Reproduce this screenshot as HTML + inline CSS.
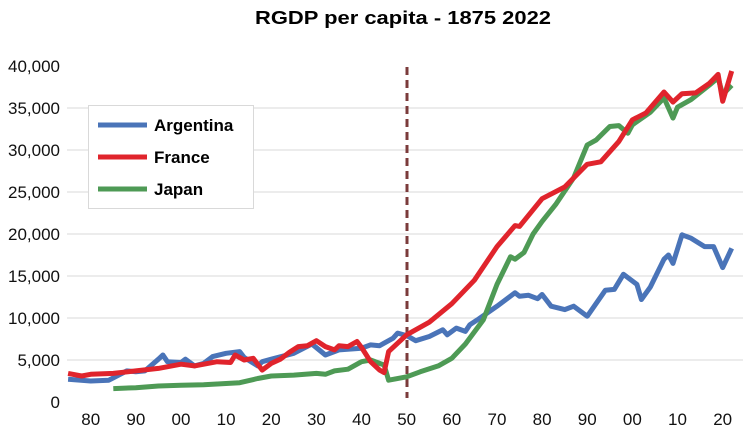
<!DOCTYPE html>
<html><head><meta charset="utf-8"><style>
body{margin:0;background:#fff;}
svg{display:block;font-family:"Liberation Sans",sans-serif;}
</style></head><body>
<svg id="chart" width="746" height="434">
<text x="403" y="24" text-anchor="middle" font-size="18" font-weight="bold" textLength="296" lengthAdjust="spacingAndGlyphs">RGDP per capita - 1875 2022</text>
<g id="grid"></g><g id="ylabels"></g><g id="xlabels"></g>
<line x1="407" y1="67" x2="407" y2="398" stroke="#7b3b3b" stroke-width="3" stroke-dasharray="8,5"/>
<g id="series"></g>
<g>
<rect x="88.5" y="105.5" width="165" height="103" fill="#fff" stroke="#d9d9d9"/>
<g><line x1="98" y1="125" x2="147" y2="125" stroke="#4a74b8" stroke-width="5"/><text x="154" y="131" font-size="17" font-weight="bold">Argentina</text></g>
<g><line x1="98" y1="157" x2="147" y2="157" stroke="#e0242c" stroke-width="5"/><text x="154" y="163" font-size="17" font-weight="bold">France</text></g>
<g><line x1="98" y1="189" x2="147" y2="189" stroke="#4e9a55" stroke-width="5"/><text x="154" y="195" font-size="17" font-weight="bold">Japan</text></g>
</g>
</svg>
<script>
const yTicks=[0,5000,10000,15000,20000,25000,30000,35000,40000];
const xTicks=[1880,1890,1900,1910,1920,1930,1940,1950,1960,1970,1980,1990,2000,2010,2020];
const argYears=[1875,1880,1884,1888,1890,1892,1895,1896,1897,1900,1901,1903,1905,1907,1910,1913,1914,1917,1918,1920,1925,1929,1932,1935,1940,1942,1944,1947,1948,1950,1952,1955,1958,1959,1961,1963,1964,1966,1970,1974,1975,1977,1979,1980,1982,1985,1987,1990,1994,1996,1998,2001,2002,2004,2007,2008,2009,2011,2013,2016,2018,2020,2022];
const argVals=[2700,2500,2600,3700,3600,3700,5100,5600,4800,4700,5100,4300,4600,5400,5800,6000,5300,4300,4800,5100,5800,6900,5600,6200,6400,6800,6700,7600,8200,7900,7300,7800,8600,8000,8800,8400,9200,9900,11400,13000,12600,12700,12300,12800,11400,11000,11400,10200,13300,13400,15200,14000,12200,13700,17000,17500,16500,19900,19500,18500,18500,16000,18300];
const fraYears=[1875,1878,1880,1885,1890,1895,1900,1903,1908,1911,1912,1914,1916,1918,1920,1922,1924,1926,1928,1930,1932,1934,1935,1937,1939,1940,1942,1944,1945,1946,1950,1955,1960,1965,1970,1974,1975,1980,1985,1990,1993,1997,2000,2003,2007,2009,2011,2014,2017,2019,2020,2022];
const fraVals=[3400,3100,3300,3400,3700,4000,4500,4300,4800,4700,5600,5000,5200,3800,4600,5100,5900,6600,6700,7300,6600,6200,6700,6600,7200,6500,4800,3800,3500,6000,8000,9500,11700,14500,18500,21000,20900,24200,25600,28300,28600,31000,33600,34400,36900,35700,36700,36800,37900,39000,35800,39400];
const jpnYears=[1885,1890,1895,1900,1905,1910,1913,1917,1920,1925,1930,1932,1934,1937,1940,1942,1944,1945,1946,1950,1953,1957,1960,1963,1967,1970,1973,1974,1976,1978,1980,1983,1987,1990,1992,1995,1997,1999,2000,2004,2007,2009,2010,2013,2017,2019,2020,2022];
const jpnVals=[1600,1700,1900,2000,2050,2200,2300,2800,3100,3200,3400,3300,3700,3900,4800,5000,4600,4400,2600,3000,3600,4300,5200,6900,9800,14000,17300,17000,17800,20000,21500,23500,26700,30600,31200,32800,32900,32000,33000,34500,36200,33800,35100,36000,37700,38600,36600,37700];
const X=yr=>90.7+(yr-1880)*4.514;
const Y=v=>402-v*0.0084;
const NS="http://www.w3.org/2000/svg";
function mk(tag,attrs,parent){const e=document.createElementNS(NS,tag);for(const k in attrs)e.setAttribute(k,attrs[k]);document.getElementById(parent).appendChild(e);return e;}
yTicks.forEach(v=>{
 if(v>0&&v<40000){const g=mk('line',{x1:67,x2:743,y1:Y(v),y2:Y(v),stroke:'#d9d9d9','stroke-width':1},'grid');
 
 }
 const t=mk('text',{x:60,y:Y(v)+6,'text-anchor':'end','font-size':17,fill:'#111'},'ylabels');
 t.textContent=v.toLocaleString('en-US');
 
 
});
xTicks.forEach(yr=>{
 const t=mk('text',{x:X(yr),y:425,'text-anchor':'middle','font-size':17,fill:'#111'},'xlabels');
 t.textContent=String(yr%100).padStart(2,'0');
 
 
});
function series(years,vals,color,name){
 const p=mk('polyline',{points:years.map((y,i)=>X(y).toFixed(1)+','+Y(vals[i]).toFixed(1)).join(' '),fill:'none',stroke:color,'stroke-width':5,'stroke-linejoin':'round'},'series');
 
 
}
series(argYears,argVals,'#4a74b8','argentina-line');
series(jpnYears,jpnVals,'#4e9a55','japan-line');
series(fraYears,fraVals,'#e0242c','france-line');
</script>
</body></html>
